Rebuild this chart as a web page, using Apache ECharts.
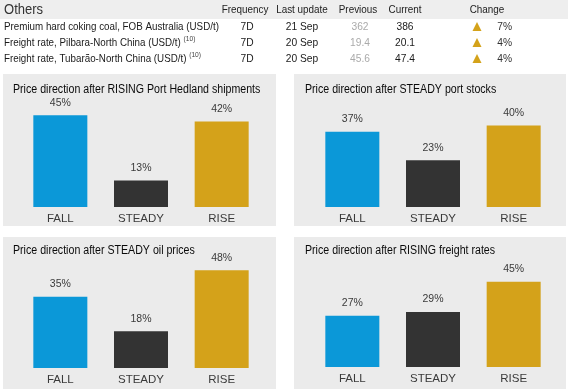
<!DOCTYPE html>
<html>
<head>
<meta charset="utf-8">
<script src="https://cdn.jsdelivr.net/npm/echarts@6/dist/echarts.min.js"></script>
<style>
html,body{margin:0;padding:0;background:#fff;}
#chart{width:568px;height:389px;}
</style>
</head>
<body>
<div id="chart"></div>
<script>
// ---- Data ----
const categories = ['FALL', 'STEADY', 'RISE'];
const panelTitles = [
  'Price direction after RISING Port Hedland shipments',
  'Price direction after STEADY port stocks',
  'Price direction after STEADY oil prices',
  'Price direction after RISING freight rates'
];
const risingShipments = [45, 13, 42];
const steadyStocks = [37, 23, 40];
const steadyOil = [35, 18, 48];
const risingFreight = [27, 29, 45];

const tableTitle = 'Others';
const tableHeaders = ['Frequency', 'Last update', 'Previous', 'Current', 'Change'];
const rowNames = [
  'Premium hard coking coal, FOB Australia (USD/t)',
  'Freight rate, Pilbara-North China (USD/t)',
  'Freight rate, Tubarão-North China (USD/t)'
];
const rowNotes = ['', '(10)', '(10)'];
const frequencies = ['7D', '7D', '7D'];
const lastUpdates = ['21 Sep', '20 Sep', '20 Sep'];
const previousValues = ['362', '19.4', '45.6'];
const currentValues = ['386', '20.1', '47.4'];
const changes = ['7%', '4%', '4%'];

// ---- Layout / style ----
const FONT = 'Liberation Sans, Arial, sans-serif';
const barColors = ['#0b98d8', '#333333', '#d4a21a'];
const panelBg = '#ebebeb';
const panels = [
  {x: 3, y: 74, w: 273, h: 152},
  {x: 294, y: 74, w: 272, h: 152},
  {x: 3, y: 237, w: 273, h: 152},
  {x: 294, y: 237, w: 272, h: 152}
];
const grids = [
  {left: 20, width: 242, top: 97, height: 110, max: 54},
  {left: 312, width: 242, top: 97, height: 110, max: 54},
  {left: 20, width: 242, top: 258, height: 110, max: 54},
  {left: 312, width: 242, top: 257, height: 110, max: 58}
];
const titlePos = [
  {x: 13, y: 90},
  {x: 305, y: 90},
  {x: 13, y: 251},
  {x: 305, y: 251}
];
const seriesData = [risingShipments, steadyStocks, steadyOil, risingFreight];

const chart = echarts.init(document.getElementById('chart'), null, {renderer: 'canvas'});

const SX = 0.89;
function txt(x, y, text, opts) {
  return Object.assign({
    type: 'text', x: x, y: y, scaleX: opts.scaleX || SX,
    style: Object.assign({
      text: text, font: (opts.size || 11) + 'px ' + FONT, fill: opts.fill || '#222',
      align: opts.align || 'left', verticalAlign: 'middle'
    }, opts.style || {})
  }, opts.extra || {});
}

// table graphics
const graphics = [];
graphics.push({type: 'rect', shape: {x: 0, y: 0, width: 568, height: 19}, style: {fill: '#eeeeee'}, z: -10});
graphics.push(txt(4, 10, tableTitle, {size: 14, fill: '#333', scaleX: 0.93}));
const colCenters = [245, 302, 358, 405, 487];
tableHeaders.forEach((h, i) => {
  graphics.push(txt(colCenters[i], 10, h, {size: 11.5, fill: '#222', align: 'center', scaleX: 0.86}));
});
const rowY = [27, 43, 59];
rowNames.forEach((name, r) => {
  graphics.push(txt(4, rowY[r], name + (rowNotes[r] ? ' {s|' + rowNotes[r] + '}' : ''), {
    size: 11, fill: '#1a1a1a',
    style: {rich: {s: {fontSize: 7.5, fontFamily: FONT, fill: '#444', padding: [0, 0, 8, 0]}}}
  }));
  graphics.push(txt(247, rowY[r], frequencies[r], {size: 11.5, align: 'center', fill: '#1a1a1a'}));
  graphics.push(txt(302, rowY[r], lastUpdates[r], {size: 11.5, align: 'center', fill: '#1a1a1a'}));
  graphics.push(txt(360, rowY[r], previousValues[r], {size: 11.5, align: 'center', fill: '#aaaaaa'}));
  graphics.push(txt(405, rowY[r], currentValues[r], {size: 11.5, align: 'center', fill: '#1a1a1a'}));
  graphics.push({type: 'polygon', shape: {points: [[477, rowY[r] - 5], [472.5, rowY[r] + 4], [481.5, rowY[r] + 4]]}, style: {fill: '#d4a21a'}});
  graphics.push(txt(512, rowY[r], changes[r], {size: 11.5, align: 'right', fill: '#333'}));
});
panels.forEach(p => {
  graphics.push({type: 'rect', shape: {x: p.x, y: p.y, width: p.w, height: p.h}, style: {fill: panelBg}, z: -10});
});
panelTitles.forEach((t, i) => {
  graphics.push(txt(titlePos[i].x, titlePos[i].y, t, {size: 12, fill: '#0a0a0a', scaleX: 0.885}));
});

const option = {
  backgroundColor: '#ffffff',
  animation: false,
  graphic: graphics,
  grid: grids.map(g => ({left: g.left, width: g.width, top: g.top, height: g.height, containLabel: false})),
  xAxis: grids.map((g, i) => ({
    type: 'category', gridIndex: i, data: categories,
    axisLine: {show: false}, axisTick: {show: false},
    axisLabel: {margin: 6, fontFamily: FONT, fontSize: 11.5, color: '#3a3a3a'}
  })),
  yAxis: grids.map((g, i) => ({
    type: 'value', gridIndex: i, min: 0, max: g.max, show: false,
    splitLine: {show: false}
  })),
  series: seriesData.map((d, i) => ({
    type: 'bar', xAxisIndex: i, yAxisIndex: i, data: d, barWidth: 54,
    itemStyle: {color: p => barColors[p.dataIndex]},
    label: {show: true, position: 'top', distance: 7, formatter: '{c}%', fontFamily: FONT, fontSize: 10.5, color: '#3a3a3a'}
  }))
};
chart.setOption(option);
</script>
</body>
</html>
